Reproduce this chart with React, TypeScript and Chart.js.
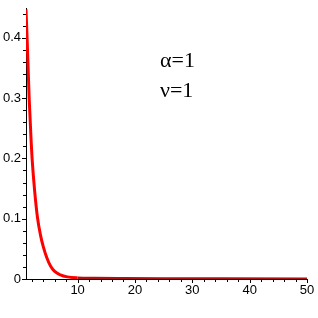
import React, { useEffect, useRef } from "react";
import { Chart, registerables } from "chart.js";

Chart.register(...registerables);

const xValues = [1, 1.19, 1.55, 1.92, 2.06, 2.5, 3.0, 3.5, 4.0, 4.6, 5.3, 6.0, 7.0, 8.2, 10, 13, 18, 25, 35, 50];
const yValues = [0.447, 0.4, 0.3, 0.224, 0.2, 0.147, 0.102, 0.074, 0.054, 0.036, 0.021, 0.0125, 0.0068, 0.0035, 0.0018, 0.0012, 0.0008, 0.0005, 0.0003, 0.0002];
const annotationLines = ["α=1", "ν=1"];
const xMajorTicks = [10, 20, 30, 40, 50];
const yMajorTicks = [0, 0.1, 0.2, 0.3, 0.4];
const xMinorStep = 2;
const yMinorStep = 0.02;

const textPlugin = {
  id: "paramText",
  afterDraw(chart: any) {
    const ctx = chart.ctx;
    ctx.save();
    ctx.fillStyle = "#000";
    ctx.font = '22px "Liberation Serif", "Times New Roman", serif';
    ctx.textAlign = "left";
    ctx.textBaseline = "alphabetic";
    ctx.fillText(annotationLines[0], 160, 67);
    ctx.fillText(annotationLines[1], 160, 97);
    ctx.restore();
  },
};

const tickPlugin = {
  id: "manualTicks",
  afterDraw(chart: any) {
    const ctx = chart.ctx;
    const xs = chart.scales.x;
    const ys = chart.scales.y;
    const area = chart.chartArea;
    const bottom = Math.round(area.bottom);
    const left = Math.round(area.left);
    ctx.save();
    ctx.globalAlpha = 1;
    ctx.globalCompositeOperation = "source-over";
    ctx.fillStyle = "#000";
    for (let k = 1; k * xMinorStep <= xs.max + 1e-9; k++) {
      const v = k * xMinorStep;
      const major = xMajorTicks.includes(v);
      const px = Math.round(xs.getPixelForValue(v));
      ctx.fillRect(px, bottom, 1, major ? 4 : 3);
    }
    for (let k = 0; k * yMinorStep <= ys.max + 1e-9; k++) {
      const v = k * yMinorStep;
      const major = yMajorTicks.some((m) => Math.abs(m - v) < 1e-6);
      const py = Math.round(ys.getPixelForValue(v));
      const len = major ? 4 : 3;
      ctx.fillRect(left - len, py, len, 1);
    }
    ctx.restore();
  },
};

export default function App() {
  const ref = useRef<HTMLCanvasElement>(null);
  useEffect(() => {
    document.body.style.margin = "0";
    const data = xValues.map((x, i) => ({ x, y: yValues[i] }));
    const tickFont = { family: '"Liberation Sans", Arial, sans-serif', size: 13 };
    const chart = new Chart(ref.current!, {
      type: "line",
      data: {
        datasets: [
          {
            data,
            borderColor: "#ff0000",
            borderWidth: 3,
            pointRadius: 0,
            cubicInterpolationMode: "monotone",
            segment: {
              borderColor: (c: any) => (c.p0.parsed.x >= 10 ? "#b01010" : "#ff0000"),
            },
          } as any,
        ],
      },
      options: {
        responsive: false,
        animation: false,
        events: [],
        layout: { padding: { top: 7, right: 11, left: 0, bottom: 0 } },
        plugins: { legend: { display: false }, tooltip: { enabled: false } },
        scales: {
          x: {
            type: "linear",
            min: 1,
            max: 50,
            afterFit: (s: any) => {
              s.height = 39;
            },
            border: { display: true, color: "#000", width: 1 },
            grid: { display: true, drawOnChartArea: false, drawTicks: true, tickLength: 4, tickColor: "rgba(0,0,0,0)" },
            ticks: {
              stepSize: 2,
              autoSkip: false,
              maxRotation: 0,
              padding: 0,
              color: "#000",
              font: tickFont,
              callback: (v: any) => (xMajorTicks.includes(Number(v)) ? String(v) : ""),
            },
          },
          y: {
            type: "linear",
            min: 0,
            max: 0.448,
            afterFit: (s: any) => {
              s.width = 26;
            },
            border: { display: true, color: "#000", width: 1 },
            grid: { display: true, drawOnChartArea: false, drawTicks: true, tickLength: 4, tickColor: "rgba(0,0,0,0)" },
            ticks: {
              stepSize: 0.02,
              autoSkip: false,
              padding: 1,
              color: "#000",
              font: tickFont,
              callback: (v: any) => {
                const n = Number(v);
                const m = yMajorTicks.find((t) => Math.abs(t - n) < 1e-6);
                return m !== undefined ? String(m) : "";
              },
            },
          },
        },
      },
      plugins: [tickPlugin, textPlugin],
    });
    return () => chart.destroy();
  }, []);
  return <canvas ref={ref} width={318} height={318} />;
}
